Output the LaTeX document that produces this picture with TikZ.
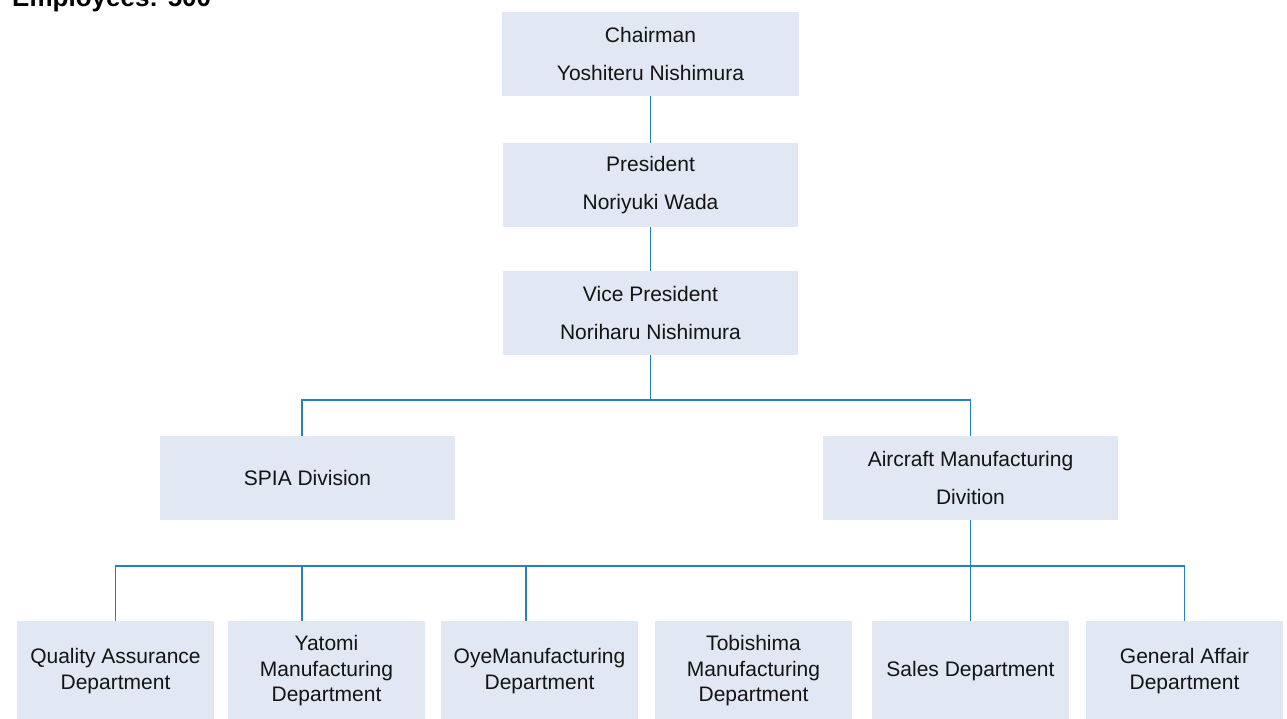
\documentclass[tikz,border=0pt]{standalone}
\usepackage{fontspec}
\setmainfont{Liberation Sans}
\definecolor{boxfill}{RGB}{225,231,243}
\definecolor{linkcol}{RGB}{40,125,200}
\definecolor{txt}{RGB}{20,20,20}
\begin{document}
\begin{tikzpicture}[x=1pt,y=-1pt,
  topbox/.style={rectangle,fill=boxfill,minimum width=295pt,minimum height=84pt,inner sep=0pt,align=center,text=txt,font=\fontsize{21}{38}\selectfont},
  depbox/.style={rectangle,fill=boxfill,minimum width=197pt,minimum height=100pt,inner sep=0pt,align=center,text=txt,font=\fontsize{21}{25.5}\selectfont},
  link/.style={draw=linkcol,line width=1.5pt}]
\clip (0,0) rectangle (1287,719);
\fill[white] (0,0) rectangle (1287,719);
\node[anchor=base west,font=\fontsize{26}{30}\selectfont\bfseries,text=black,inner sep=0pt] (emp) at (12,7) {Employees: 500};
\node[topbox,minimum width=297pt] (chair) at (650.5,54) {Chairman\\Yoshiteru Nishimura};
\node[topbox] (pres) at (650.5,185) {President\\Noriyuki Wada};
\node[topbox] (vice) at (650.5,313) {Vice President\\Noriharu Nishimura};
\node[topbox] (spia) at (307.5,478) {SPIA Division};
\node[topbox] (air) at (970.5,478) {Aircraft Manufacturing\\Divition};
\node[depbox] (qa) at (115.5,671) {Quality Assurance\\Department};
\node[depbox] (yat) at (326.5,671) {Yatomi\\Manufacturing\\Department};
\node[depbox] (oye) at (539.5,671) {OyeManufacturing\\Department};
\node[depbox] (tob) at (753.5,671) {Tobishima\\Manufacturing\\Department};
\node[depbox] (sal) at (970.5,671) {Sales Department};
\node[depbox] (ga) at (1184.5,671) {General Affair\\Department};
\coordinate (j1) at (650.5,400);
\coordinate (j2) at (970.5,566);
\draw[link] (chair.south) -- (pres.north);
\draw[link] (pres.south) -- (vice.north);
\draw[link] (vice.south) -- (j1);
\draw[link] (j1) -| ([xshift=-5.5pt]spia.north);
\draw[link] (j1) -| (air.north);
\draw[link] (air.south) -- (sal.north);
\draw[link] (j2) -| (qa.north);
\draw[link] (j2) -| ([xshift=-24.5pt]yat.north);
\draw[link] (j2) -| ([xshift=-13.5pt]oye.north);
\draw[link] (j2) -| (ga.north);
\end{tikzpicture}
\end{document}
